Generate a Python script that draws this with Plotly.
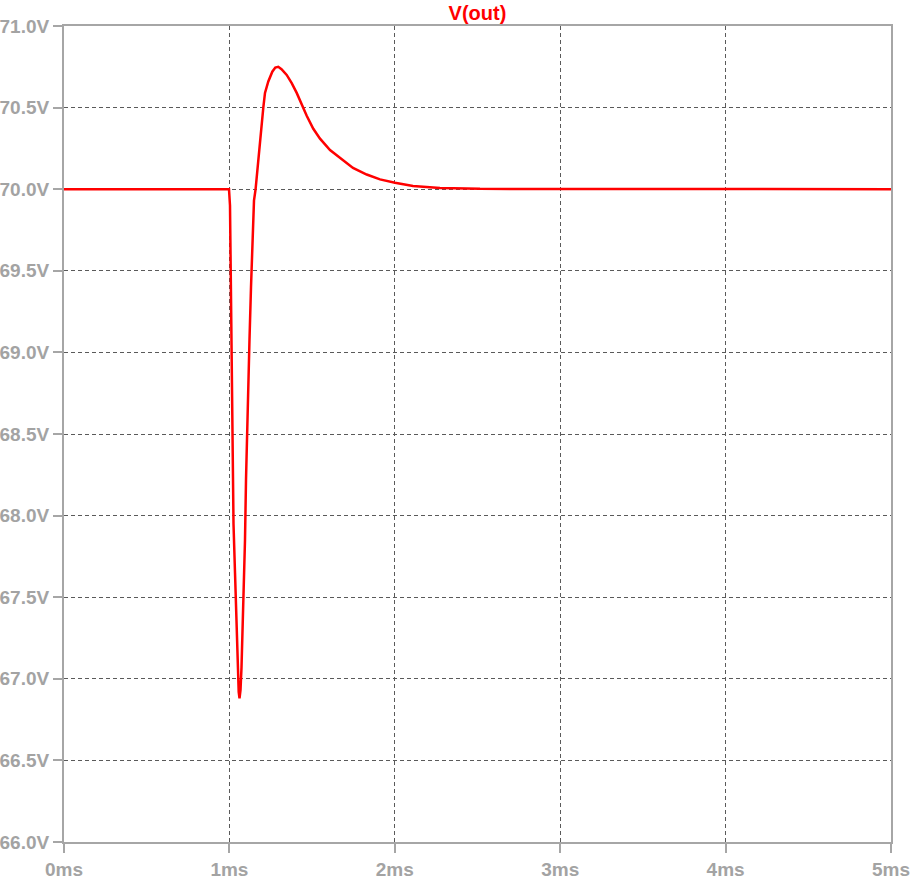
import plotly.graph_objects as go

# Waveform V(out) (time in ms, voltage in V)
time_ms = [0.0, 0.9976, 1.0036, 1.0097, 1.0157, 1.0248, 1.0339, 1.0399, 1.0460,
           1.0520, 1.0562, 1.0611, 1.0671, 1.0732, 1.0822, 1.0883, 1.0943, 1.1004,
           1.1064, 1.1125, 1.1215, 1.1306, 1.1366, 1.1427, 1.1487, 1.1584, 1.1790,
           1.1911, 1.2050, 1.2152, 1.2352, 1.2594, 1.2775, 1.2956, 1.3150, 1.3464,
           1.3767, 1.4069, 1.4371, 1.4674, 1.5073, 1.5478, 1.6083, 1.6687, 1.7473,
           1.8301, 1.9105, 2.0012, 2.1100, 2.2733, 2.5151, 5.0]
v_out = [70.0, 70.0, 69.9, 69.4, 68.6, 67.95, 67.65, 67.42, 67.22,
         67.07, 66.92, 66.88, 66.93, 67.07, 67.38, 67.6, 67.85, 68.22,
         68.5, 68.83, 69.08, 69.4, 69.61, 69.77, 69.93, 70.0, 70.24,
         70.38, 70.5, 70.59, 70.66, 70.72, 70.745, 70.75, 70.735, 70.70,
         70.65, 70.59, 70.52, 70.45, 70.37, 70.31, 70.24, 70.19, 70.13,
         70.09, 70.06, 70.04, 70.02, 70.008, 70.002, 70.0]

x_ticks = [0, 1, 2, 3, 4, 5]
x_labels = ["0ms", "1ms", "2ms", "3ms", "4ms", "5ms"]
y_ticks = [66.0, 66.5, 67.0, 67.5, 68.0, 68.5, 69.0, 69.5, 70.0, 70.5, 71.0]
y_labels = ["66.0V", "66.5V", "67.0V", "67.5V", "68.0V", "68.5V", "69.0V",
            "69.5V", "70.0V", "70.5V", "71.0V"]

fig = go.Figure()
fig.add_trace(go.Scatter(x=time_ms, y=v_out, mode="lines",
                         line=dict(color="#ff0000", width=2.5), name="V(out)"))

axis_common = dict(
    showline=True, linecolor="#a6a6a6", linewidth=2, mirror=True,
    ticks="outside", ticklen=9, tickwidth=2, tickcolor="#a6a6a6",
    showgrid=True, gridcolor="#5a5a5a", gridwidth=1, griddash="4px,3px",
    zeroline=False, automargin=False,
    tickfont=dict(family="Liberation Sans, Arial, sans-serif", size=19,
                  color="#a3a3a3", weight="bold"),
)

fig.update_layout(
    width=911, height=880,
    margin=dict(l=64, r=20, t=26, b=38),
    paper_bgcolor="white", plot_bgcolor="white",
    showlegend=False,
    title=dict(text="<b>V(out)</b>", x=0.5, xref="paper", xanchor="center",
               y=1 - 13 / 880, yref="container", yanchor="middle",
               automargin=False,
               font=dict(family="Liberation Sans, Arial, sans-serif", size=20, color="#ff0000")),
    xaxis=dict(range=[0, 5], tickvals=x_ticks, ticktext=x_labels, **axis_common),
    yaxis=dict(range=[66, 71], tickvals=y_ticks, ticktext=y_labels, **axis_common),
)

fig.write_html("out.html", config={"displayModeBar": False},
               post_script="document.body.style.margin='0';document.body.style.overflow='hidden';")
